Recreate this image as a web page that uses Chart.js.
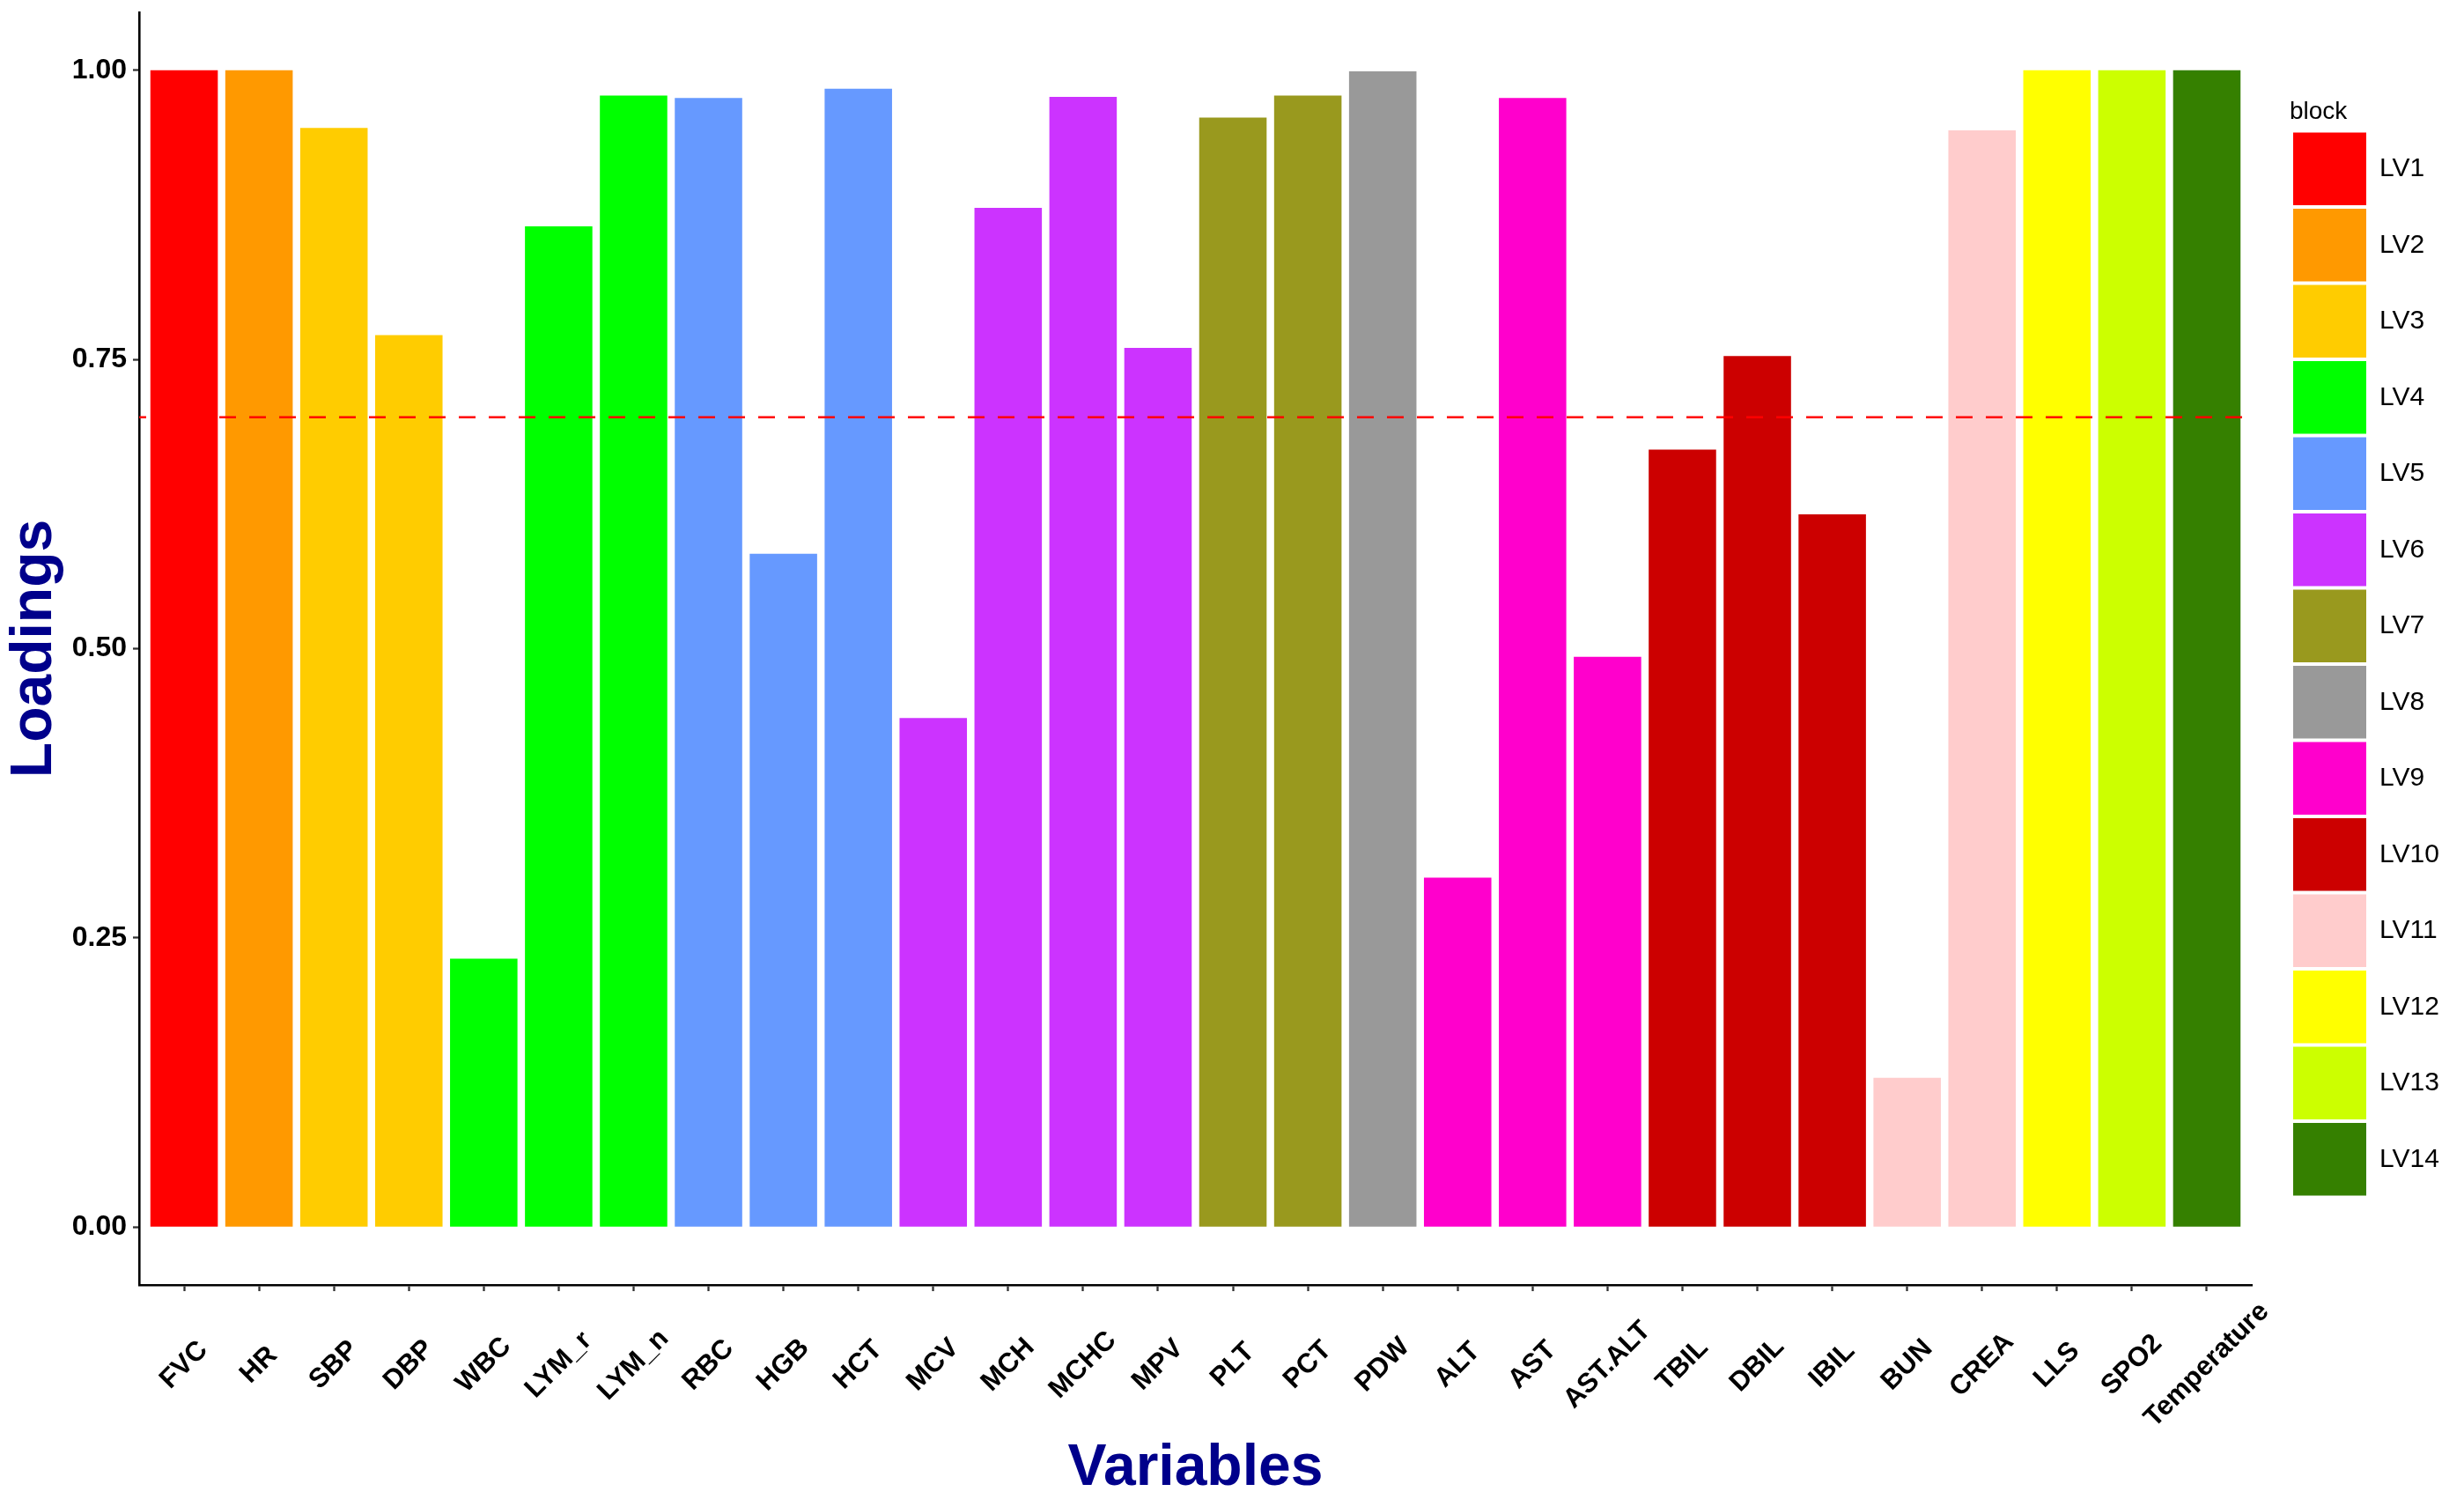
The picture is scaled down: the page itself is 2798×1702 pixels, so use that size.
<!DOCTYPE html>
<html>
<head>
<meta charset="utf-8">
<script src="https://cdn.jsdelivr.net/npm/chart.js@4.4.1/dist/chart.umd.min.js"></script>
<style>html,body{margin:0;padding:0;background:#fff}canvas{display:block}</style>
</head>
<body>
<canvas id="c" width="2798" height="1702"></canvas>
<script>
// ---- data ----
const variables = ["FVC","HR","SBP","DBP","WBC","LYM_r","LYM_n","RBC","HGB","HCT","MCV","MCH","MCHC","MPV","PLT","PCT","PDW","ALT","AST","AST.ALT","TBIL","DBIL","IBIL","BUN","CREA","LLS","SPO2","Temperature"];
const loadings  = [1.000,1.000,0.950,0.771,0.232,0.865,0.978,0.976,0.582,0.984,0.440,0.881,0.977,0.760,0.959,0.978,0.999,0.302,0.976,0.493,0.672,0.753,0.616,0.129,0.948,1.000,1.000,1.000];
const blocks    = ["LV1","LV2","LV3","LV3","LV4","LV4","LV4","LV5","LV5","LV5","LV6","LV6","LV6","LV6","LV7","LV7","LV8","LV9","LV9","LV9","LV10","LV10","LV10","LV11","LV11","LV12","LV13","LV14"];
const blockNames  = ["LV1","LV2","LV3","LV4","LV5","LV6","LV7","LV8","LV9","LV10","LV11","LV12","LV13","LV14"];
const blockColors = ["#FF0000","#FF9900","#FFCC00","#00FF00","#6699FF","#CC33FF","#99991E","#999999","#FF00CC","#CC0000","#FFCCCC","#FFFF00","#CCFF00","#358000"];
const yTickValues = [0, 0.25, 0.5, 0.75, 1.0];
const threshold = 0.7;

// ---- chart ----
Chart.defaults.font.family = "'Liberation Sans', Arial, Helvetica, sans-serif";
const EXPAND = 0.6;
const xMin = -EXPAND, xMax = variables.length - 1 + EXPAND;

const datasets = blockNames.map((b, k) => ({
  label: b,
  data: variables.map((v, i) => ({x: i, y: loadings[i], blk: blocks[i]})).filter(p => p.blk === b),
  backgroundColor: blockColors[k],
  borderWidth: 0,
  grouped: false,
  categoryPercentage: 1,
  barPercentage: 0.9,
  order: 1
}));
datasets.push({
  type: 'line', label: '__threshold',
  data: [{x: xMin, y: threshold}, {x: xMax, y: threshold}],
  borderColor: '#FF0000', borderWidth: 2.5, borderDash: [19, 15], borderDashOffset: 11,
  pointRadius: 0, fill: false, order: 0
});

const tickGrid = {display: true, offset: false, drawOnChartArea: false, drawTicks: true, tickLength: 7, tickColor: '#333333', tickWidth: 2.3};
const axisBorder = {display: true, color: '#000000', width: 2.6};
const zeroPad = s => { s.paddingTop = 0; s.paddingBottom = 0; s.paddingLeft = 0; s.paddingRight = 0; };

const customPlugin = {
  id: 'custom',
  afterInit(chart) {
    const lg = chart.legend;
    const origFit = lg.fit;
    lg.fit = function () { origFit.call(this); this.width = 241; };
  },
  afterLayout(chart) {
    const lg = chart.legend;
    lg.left = 2600; lg.right = 2798; lg.width = 198;
  },
  afterDraw(chart) {
    const ctx = chart.ctx;
    const xs = chart.scales.x;
    ctx.save();
    ctx.fillStyle = '#000000';
    ctx.font = "bold 31px 'Liberation Sans', Arial, sans-serif";
    ctx.textAlign = 'center';
    ctx.textBaseline = 'middle';
    variables.forEach((name, i) => {
      const px = xs.getPixelForValue(i);
      ctx.save();
      ctx.translate(px, 1550);
      ctx.rotate(-Math.PI / 4);
      ctx.fillText(name, 0, 0);
      ctx.restore();
    });
    ctx.restore();
  }
};

new Chart(document.getElementById('c'), {
  type: 'bar',
  data: {datasets},
  options: {
    responsive: false,
    animation: false,
    devicePixelRatio: 1,
    layout: {padding: {top: 14, left: 0, right: 0, bottom: 0}},
    scales: {
      x: {
        type: 'linear', min: xMin, max: xMax, offset: false,
        afterBuildTicks: s => { s.ticks = variables.map((_, i) => ({value: i})); },
        afterFit: s => { s.height = 243; zeroPad(s); },
        ticks: {display: false},
        grid: tickGrid,
        border: axisBorder,
        title: {display: true, text: 'Variables', color: '#00008B', font: {size: 66, weight: 'bold', lineHeight: 1.05}, padding: {top: 0, bottom: 0}}
      },
      y: {
        min: -0.05, max: 1.05,
        afterBuildTicks: s => { s.ticks = yTickValues.map(v => ({value: v})); },
        afterFit: s => { s.width = 158; zeroPad(s); },
        ticks: {color: '#000000', font: {size: 32, weight: 'bold'}, padding: 7, callback: v => Number(v).toFixed(2)},
        grid: tickGrid,
        border: axisBorder,
        title: {display: true, text: 'Loadings', color: '#00008B', font: {size: 66, weight: 'bold'}, padding: {top: 0, bottom: 0}}
      }
    },
    plugins: {
      tooltip: {enabled: false},
      legend: {
        position: 'right', align: 'start',
        title: {display: true, position: 'start', text: 'block', color: '#000000', font: {size: 28}, padding: {top: 99, bottom: 0}},
        labels: {
          boxWidth: 83, boxHeight: 82.5, padding: 4, color: '#000000', font: {size: 30},
          filter: item => item.text !== '__threshold'
        }
      }
    }
  },
  plugins: [customPlugin]
});
</script>
</body>
</html>
